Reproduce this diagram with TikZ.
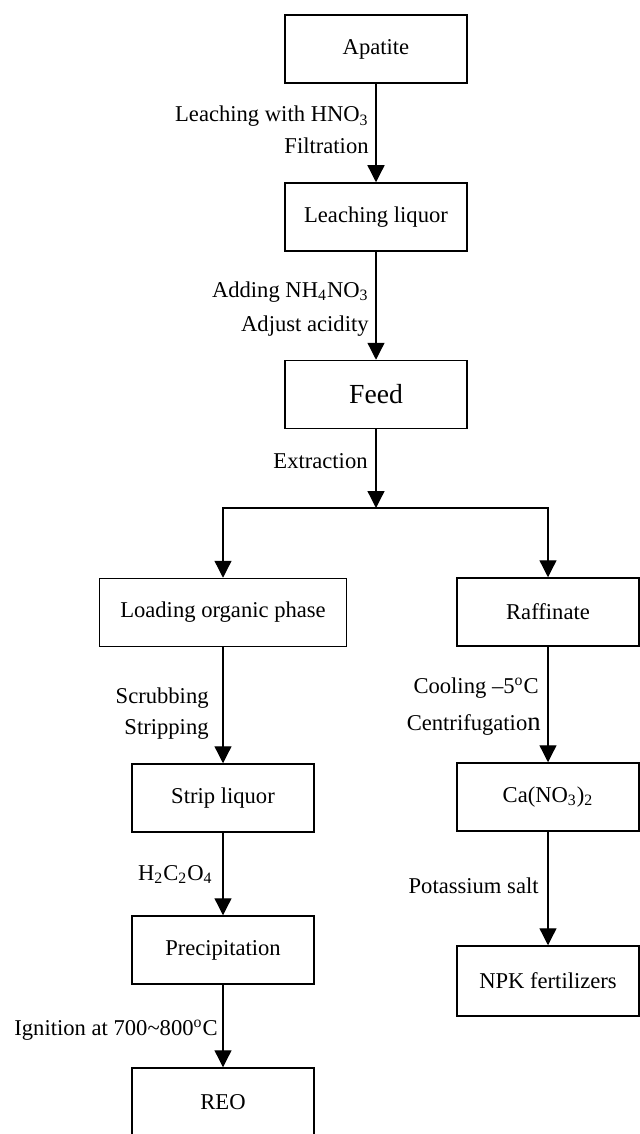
\documentclass[tikz,border=0pt]{standalone}
\usepackage{fontspec}
\setmainfont{Liberation Serif}
\usetikzlibrary{arrows.meta}
\tikzset{
  box/.style={draw, line width=.75pt, minimum width=91pt, minimum height=34pt, inner sep=0pt, font=\fontsize{11.3}{13}\selectfont},
  lbl/.style={anchor=base east, inner sep=0pt, font=\fontsize{11.3}{13}\selectfont},
  flow/.style={-{Triangle[width=8.5pt,length=8.5pt]}, line width=.65pt}
}
\begin{document}
\begin{tikzpicture}
  [x=.5pt,y=-.5pt]
  \useasboundingbox (0,0) rectangle (639,1134);
  % main column
  \node (apatite)[box] at (376,49) {Apatite};
  \node (liquor)[box] at (376,217) {Leaching liquor};
  \node (feed)[box,font=\fontsize{13.8}{16}\selectfont] at (376,394.5) {Feed};
  \coordinate (split) at (376,508);
  % organic branch
  \node (loading)[box,minimum width=123.5pt] at (223,612.5) {Loading organic phase};
  \node (strip)[box] at (223,798) {Strip liquor};
  \node (precip)[box] at (223,950) {Precipitation};
  \node (reo)[box] at (223,1102) {REO};
  % raffinate branch
  \node (raffinate)[box] at (548,612) {Raffinate};
  \node (cano)[box] at (548,797) {Ca(NO\textsubscript{3})\textsubscript{2}};
  \node (npk)[box,minimum height=35pt] at (548,981) {NPK fertilizers};
  % labels
  \node (l1)[lbl] at (369,122) {Leaching with HNO\textsubscript{3}};
  \node (l2)[lbl] at (369,154) {Filtration};
  \node (l3)[lbl] at (369,297) {Adding NH\textsubscript{4}NO\textsubscript{3}};
  \node (l4)[lbl] at (369,331) {Adjust acidity};
  \node (l5)[lbl] at (368,468) {Extraction};
  \node (l6)[lbl] at (209,703) {Scrubbing};
  \node (l7)[lbl] at (209,734) {Stripping};
  \node (l8)[lbl] at (213,880) {H\textsubscript{2}C\textsubscript{2}O\textsubscript{4}};
  \node (l9)[lbl] at (218,1035) {Ignition at 700\textasciitilde800\textsuperscript{o}C};
  \node (l10)[lbl] at (539,693) {Cooling \textendash5\textsuperscript{o}C};
  \node (l11)[lbl] at (541,730) {Centrifugatio{\fontsize{13.3}{15}\selectfont n}};
  \node (l12)[lbl] at (539,893) {Potassium salt};
  % connectors
  \foreach \from/\to in {apatite/liquor,liquor/feed,feed/split,loading/strip,strip/precip,precip/reo,raffinate/cano,cano/npk}
    \draw[flow] (\from) -- (\to);
  \draw[flow] (split) -| (loading);
  \draw[flow] (split) -| (raffinate);
\end{tikzpicture}
\end{document}
